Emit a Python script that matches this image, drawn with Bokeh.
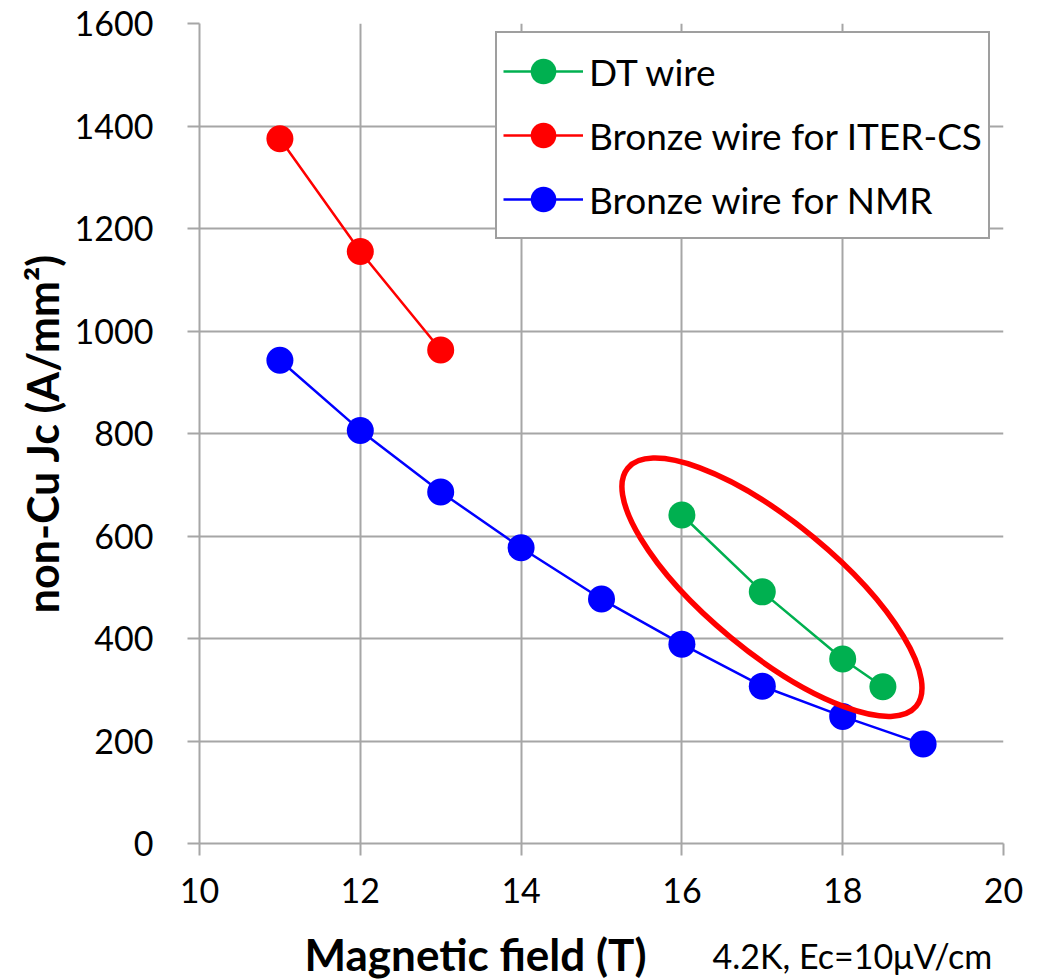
from bokeh.plotting import figure
from bokeh.layouts import column
from bokeh.models import Range1d, FixedTicker, Legend, LegendItem
from bokeh.core.properties import value
from bokeh.embed import file_html
from bokeh.resources import INLINE

# Magnetic field (T) and non-Cu critical current density (A/mm^2), 4.2 K
dt_field = [16, 17, 18, 18.5]
dt_jc = [641, 491, 360, 306]

iter_field = [11, 12, 13]
iter_jc = [1375, 1155, 963]

nmr_field = [11, 12, 13, 14, 15, 16, 17, 18, 19]
nmr_jc = [943, 806, 686, 577, 477, 389, 307, 248, 194]

x_ticks = [10, 12, 14, 16, 18, 20]
y_ticks = [0, 200, 400, 600, 800, 1000, 1200, 1400, 1600]

x_title = "Magnetic field (T)"
y_title = "non-Cu Jc (A/mm²)"
condition_note = "4.2K, Ec=10μV/cm"

# Highlight ellipse around the DT wire results
highlight_center = (17.12, 500)
highlight_w, highlight_h, highlight_angle = 374, 130, -0.69

FONT = "Lato"
GRID = "#A6A6A6"
W = 1038
FRAME_LEFT, FRAME_RIGHT = 199, 1003

p = figure(width=W, height=920, output_backend="svg", toolbar_location=None,
           x_range=Range1d(10, 20), y_range=Range1d(0, 1600),
           min_border_left=FRAME_LEFT, min_border_right=W - FRAME_RIGHT,
           min_border_top=23, min_border_bottom=77)
p.outline_line_color = None
p.background_fill_color = "white"

for ax, ticks in ((p.xaxis[0], x_ticks), (p.yaxis[0], y_ticks)):
    ax.ticker = FixedTicker(ticks=ticks)
    ax.axis_line_color = GRID
    ax.axis_line_width = 2
    ax.major_tick_line_color = GRID
    ax.major_tick_line_width = 2
    ax.major_tick_out = 12
    ax.major_tick_in = 0
    ax.minor_tick_line_color = None
    ax.major_label_text_font = FONT
    ax.major_label_text_font_size = "34px"
    ax.major_label_text_color = "black"

p.xaxis.major_label_standoff = 22
p.yaxis.major_label_standoff = 34

p.yaxis.axis_label = y_title
p.yaxis.axis_label_text_font = FONT
p.yaxis.axis_label_text_font_size = "43px"
p.yaxis.axis_label_text_font_style = "bold"
p.yaxis.axis_label_text_color = "black"
p.yaxis.axis_label_standoff = 4

p.xgrid.ticker = FixedTicker(ticks=x_ticks)
p.ygrid.ticker = FixedTicker(ticks=y_ticks)
for g in (p.xgrid[0], p.ygrid[0]):
    g.grid_line_color = GRID
    g.grid_line_width = 2

series = [
    ("DT wire", dt_field, dt_jc, "#00B050"),
    ("Bronze wire for ITER-CS", iter_field, iter_jc, "#FF0000"),
    ("Bronze wire for NMR", nmr_field, nmr_jc, "#0000FF"),
]

items = []
for name, xs, ys, col in series:
    ln = p.line(xs, ys, line_color=col, line_width=2.5)
    sc = p.scatter(xs, ys, size=27, fill_color=col, line_color=col, line_width=0)
    items.append(LegendItem(label=name, renderers=[ln, sc]))

p.ellipse(x=[highlight_center[0]], y=[highlight_center[1]],
          width=highlight_w, height=highlight_h, angle=highlight_angle,
          width_units="screen", height_units="screen",
          fill_color=None, line_color="#FF0000", line_width=5.5)

legend = Legend(items=items, location=(296, 604))
legend.label_text_font = FONT
legend.label_text_font_size = "37px"
legend.label_text_color = "black"
legend.glyph_width = 80
legend.glyph_height = 64
legend.label_height = 64
legend.label_standoff = 6
legend.spacing = 0
legend.padding = 6
legend.margin = 0
legend.border_line_color = "#404040"
legend.border_line_width = 2
legend.background_fill_alpha = 1
p.add_layout(legend, "center")

# Strip under the chart carrying the x-axis title and the measurement condition.
# Its frame lines up with the chart frame, so x here is in page pixels.
cap = figure(width=W, height=60, output_backend="svg", toolbar_location=None,
             x_range=Range1d(FRAME_LEFT, FRAME_RIGHT), y_range=Range1d(60, 0),
             min_border_left=FRAME_LEFT, min_border_right=W - FRAME_RIGHT,
             min_border_top=0, min_border_bottom=0,
             x_axis_type=None, y_axis_type=None)
cap.outline_line_color = None
cap.grid.visible = False
cap.text(x=[475], y=[33], text=[x_title], text_font=value(FONT),
         text_font_size="44px", text_font_style="bold", text_color="black",
         text_align="center", text_baseline="alphabetic")
cap.text(x=[712], y=[35], text=[condition_note], text_font=value(FONT),
         text_font_size="34px", text_color="black",
         text_align="left", text_baseline="alphabetic")

layout = column(p, cap, spacing=0)
open("out.html", "w").write(file_html(layout, INLINE))
